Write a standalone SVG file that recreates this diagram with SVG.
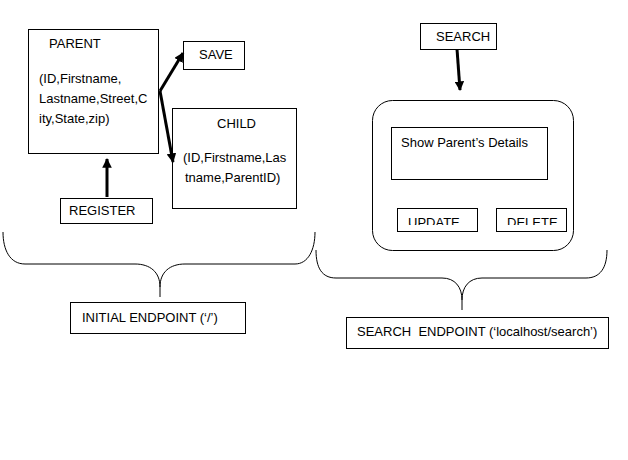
<svg xmlns="http://www.w3.org/2000/svg" width="628" height="460" viewBox="0 0 628 460">
<style>
  .box { fill: #ffffff; stroke: #000000; stroke-width: 1; }
  .t { font-family: "Liberation Sans", Arial, sans-serif; font-size: 13px; fill: #000000; }
  .pre { white-space: pre; }
  .conn { fill: none; stroke: #000000; stroke-width: 3; }
  .brace { fill: none; stroke: #000000; stroke-width: 1; }
</style>
<defs>
  <marker id="ah" viewBox="0 0 10 10" refX="9" refY="5" markerWidth="3.2" markerHeight="3.2" orient="auto" markerUnits="strokeWidth">
    <path d="M0,0 L10,5 L0,10 Z" fill="#000000"/>
  </marker>
  <clipPath id="clipBtn">
    <rect x="390" y="200" width="190" height="25"/>
  </clipPath>
</defs>
<rect width="628" height="460" fill="#ffffff"/>

<g id="parent">
  <rect class="box" x="28.5" y="29.5" width="130" height="124"/>
  <text class="t" x="49" y="48">PARENT</text>
  <text class="t" x="39" y="83">(ID,Firstname,</text>
  <text class="t" x="39" y="103">Lastname,Street,C</text>
  <text class="t" x="39" y="123">ity,State,zip)</text>
</g>

<g id="save">
  <rect class="box" x="183.5" y="41.5" width="61" height="28"/>
  <text class="t" x="199" y="59">SAVE</text>
</g>

<g id="child">
  <rect class="box" x="172.5" y="108.5" width="124" height="100"/>
  <text class="t" x="217" y="128">CHILD</text>
  <text class="t" x="183" y="162">(ID,Firstname,Las</text>
  <text class="t" x="185" y="182">tname,ParentID)</text>
</g>

<g id="register">
  <rect class="box" x="60.5" y="198.5" width="92" height="25"/>
  <text class="t" x="69" y="215">REGISTER</text>
</g>

<g id="search">
  <rect class="box" x="420.5" y="23.5" width="76" height="26"/>
  <text class="t" x="436" y="41">SEARCH</text>
</g>

<g id="search-panel">
  <rect class="box" x="372.5" y="100.5" width="201" height="150" rx="20" ry="20"/>
</g>

<g id="show-details">
  <rect class="box" x="391.5" y="127.5" width="156" height="52"/>
  <text class="t" x="401" y="147">Show Parent’s Details</text>
</g>

<g id="update">
  <rect class="box" x="397.5" y="208.5" width="80" height="23"/>
  <text class="t" x="408" y="226.5" clip-path="url(#clipBtn)">UPDATE</text>
</g>

<g id="delete">
  <rect class="box" x="496.5" y="208.5" width="70" height="23"/>
  <text class="t" x="507" y="226.5" clip-path="url(#clipBtn)">DELETE</text>
</g>

<g id="initial-endpoint">
  <rect class="box" x="70.5" y="302.5" width="175" height="31"/>
  <text class="t" x="82" y="322">INITIAL ENDPOINT (‘/’)</text>
</g>

<g id="search-endpoint">
  <rect class="box" x="346.5" y="317.5" width="262" height="31"/>
  <text class="t pre" x="357" y="336" xml:space="preserve">SEARCH  ENDPOINT (‘localhost/search’)</text>
</g>

<g id="connectors">
  <line class="conn" x1="160" y1="91" x2="183" y2="53" marker-end="url(#ah)"/>
  <line class="conn" x1="160" y1="91" x2="173" y2="162" marker-end="url(#ah)"/>
  <line class="conn" x1="107" y1="197" x2="107" y2="159" marker-end="url(#ah)"/>
  <line class="conn" x1="457" y1="49" x2="460" y2="90" marker-end="url(#ah)"/>
  <path class="brace" d="M3,232 C3,250 10,264 25,264 L135,264 C150,264 160,272 160,287 L160,297 M160,287 C160,272 170,264 185,264 L295,264 C308,264 315,250 315,232"/>
  <path class="brace" d="M316,250 C316,268 322,278 336,278 L442,278 C455,278 462,287 462,300 L462,310 M462,300 C462,287 469,278 482,278 L586,278 C600,278 607,268 607,250"/>
</g>
</svg>
